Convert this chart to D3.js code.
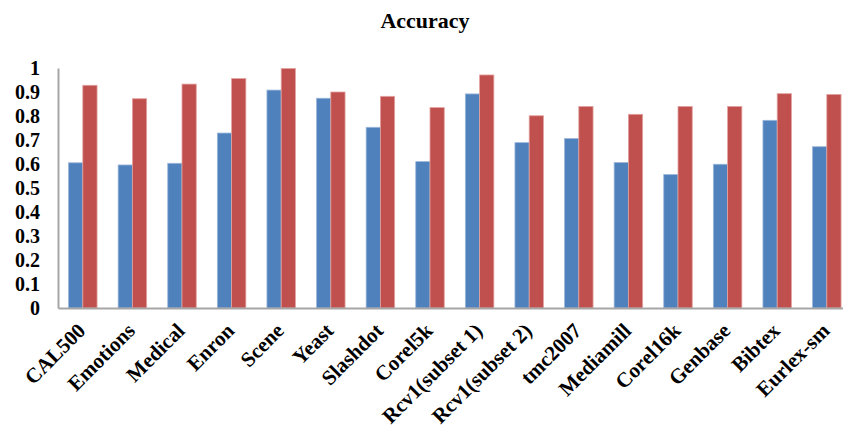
<!DOCTYPE html>
<html>
<head>
<meta charset="utf-8">
<script src="https://cdn.jsdelivr.net/npm/d3@7"></script>
<style>
  html, body { margin: 0; padding: 0; background: #fff; }
  svg { display: block; }
  text { font-family: "Liberation Serif", "Times New Roman", serif; font-weight: bold; fill: #000; }
</style>
</head>
<body>
<svg id="chart" width="843" height="429"></svg>
<script>
const categories = ["CAL500", "Emotions", "Medical", "Enron", "Scene", "Yeast", "Slashdot", "Corel5k",
  "Rcv1(subset 1)", "Rcv1(subset 2)", "tmc2007", "Mediamill", "Corel16k", "Genbase", "Bibtex", "Eurlex-sm"];
const seriesBlue = [0.605, 0.596, 0.603, 0.729, 0.908, 0.874, 0.753, 0.610,
  0.892, 0.689, 0.706, 0.606, 0.556, 0.599, 0.782, 0.672];
const seriesRed = [0.928, 0.872, 0.933, 0.956, 0.998, 0.900, 0.882, 0.835,
  0.971, 0.801, 0.840, 0.807, 0.840, 0.840, 0.893, 0.890];
const yTicks = [0, 0.1, 0.2, 0.3, 0.4, 0.5, 0.6, 0.7, 0.8, 0.9, 1];
const yTickLabels = ["0", "0.1", "0.2", "0.3", "0.4", "0.5", "0.6", "0.7", "0.8", "0.9", "1"];
const seriesNames = ["blue", "red"];
const colors = { blue: "#4F81BD", red: "#C0504D" };
const edgeColors = { blue: "#9DB7DA", red: "#E3A3A1" };

const svg = d3.select("#chart");
const plotLeft = 58, plotRight = 851.6, plotTop = 68, plotBottom = 308;

const x = d3.scaleBand().domain(categories).range([plotLeft, plotRight]).paddingInner(0.425).paddingOuter(0.2125);
const xSub = d3.scaleBand().domain(seriesNames).range([0, x.bandwidth()]);
const y = d3.scaleLinear().domain([0, 1]).range([plotBottom, plotTop]);

// title
svg.append("text").attr("x", 425).attr("y", 28).attr("text-anchor", "middle")
  .style("font-size", "22px").text("Accuracy");

// bars
const data = { blue: seriesBlue, red: seriesRed };
seriesNames.forEach(s => {
  svg.append("g").selectAll("rect").data(categories).join("rect")
    .attr("x", d => x(d) + xSub(s))
    .attr("y", (d, i) => y(data[s][i]))
    .attr("width", xSub.bandwidth())
    .attr("height", (d, i) => y(0) - y(data[s][i]))
    .attr("fill", colors[s])
    .attr("stroke", edgeColors[s])
    .attr("stroke-width", 0.8);
});

// y axis
const yAxis = d3.axisLeft(y).tickValues(yTicks).tickFormat((d, i) => yTickLabels[i]).tickSize(0).tickPadding(18);
const gy = svg.append("g").attr("transform", `translate(${plotLeft},0)`).call(yAxis);
gy.select(".domain").attr("stroke", "#A6A6A6").attr("stroke-width", 2);
gy.selectAll("text").style("font-size", "20px").style("font-family", "'Liberation Serif', serif").style("font-weight", "bold");

// x axis
const xAxis = d3.axisBottom(x).tickSize(0).tickFormat("");
const gx = svg.append("g").attr("transform", `translate(0,${plotBottom})`).call(xAxis);
gx.select(".domain").attr("stroke", "#A6A6A6").attr("stroke-width", 2);

// rotated category labels
svg.append("g").selectAll("text").data(categories).join("text")
  .attr("transform", d => `translate(${x(d) + x.bandwidth() / 2 + 4},${plotBottom + 24}) rotate(-45)`)
  .attr("text-anchor", "end")
  .style("font-size", "21px")
  .text(d => d);
</script>
</body>
</html>
